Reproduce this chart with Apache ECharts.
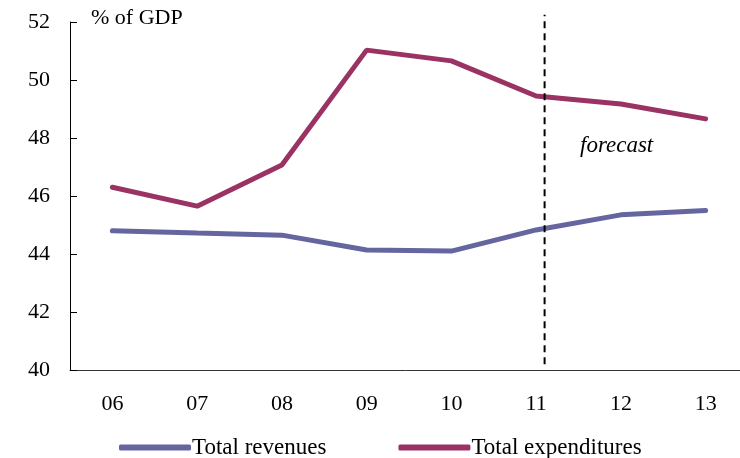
<!DOCTYPE html>
<html>
<head>
<meta charset="utf-8">
<script src="https://cdn.jsdelivr.net/npm/echarts@6/dist/echarts.min.js"></script>
<style>
  html, body { margin: 0; padding: 0; background: #fff; }
  #chart { width: 740px; height: 458px; }
</style>
</head>
<body>
<div id="chart"></div>
<script>
const years = ['06', '07', '08', '09', '10', '11', '12', '13'];
const revenues = [44.8, 44.72, 44.65, 44.14, 44.1, 44.83, 45.35, 45.5];
const expenditures = [46.3, 45.65, 47.07, 51.03, 50.66, 49.45, 49.17, 48.66];
const yTicks = [40, 42, 44, 46, 48, 50, 52];
// forecast divider, on a hidden 0..8 value axis over the categories
const forecastX = [5.6, 5.6];
const forecastY = [40.2, 52.25];

const font = '"Liberation Serif", "DejaVu Serif", serif';

const chart = echarts.init(document.getElementById('chart'));
chart.setOption({
  animation: false,
  textStyle: { fontFamily: font },
  // plot runs a little past the right edge, like the original
  grid: { left: 70, width: 678, top: 22, bottom: 88, outerBoundsMode: 'none', containLabel: false },
  legend: {
    top: 431,
    left: 114,
    itemWidth: 72,
    itemHeight: 6,
    itemGap: 72,
    icon: 'roundRect',
    textStyle: { fontFamily: font, fontSize: 23, color: '#000', padding: [0, 0, 0, -4] },
    data: ['Total revenues', 'Total expenditures']
  },
  xAxis: [{
    type: 'category',
    data: years,
    axisLine: { lineStyle: { color: '#333', width: 1 } },
    axisTick: { inside: true, length: 6, lineStyle: { color: '#333' } },
    axisLabel: { color: '#000', fontSize: 22, margin: 23, fontFamily: font }
  }, {
    type: 'value',
    min: 0,
    max: 8,
    show: false
  }],
  yAxis: {
    type: 'value',
    min: yTicks[0],
    max: yTicks[yTicks.length - 1],
    interval: 2,
    splitLine: { show: false },
    axisLine: { show: true, lineStyle: { color: '#000' } },
    axisTick: { show: true, inside: true, length: 7, lineStyle: { color: '#000' } },
    axisLabel: { color: '#000', fontSize: 22, margin: 20, fontFamily: font }
  },
  graphic: [{
    type: 'text',
    left: 91,
    top: 7,
    style: { text: '% of GDP', font: '22px ' + font, fill: '#000' }
  }, {
    type: 'text',
    left: 580,
    top: 134,
    style: { text: 'forecast', font: 'italic 23px ' + font, fill: '#000' }
  }],
  series: [{
    name: 'Total revenues',
    type: 'line',
    data: revenues,
    symbol: 'none',
    color: '#65669f',
    lineStyle: { width: 5, color: '#65669f', cap: 'round' }
  }, {
    name: 'Total expenditures',
    type: 'line',
    data: expenditures,
    symbol: 'none',
    color: '#9b3264',
    lineStyle: { width: 5, color: '#9b3264', cap: 'round' }
  }, {
    name: 'forecast',
    type: 'line',
    xAxisIndex: 1,
    clip: false,
    symbol: 'none',
    silent: true,
    data: forecastX.map((x, i) => [x, forecastY[i]]),
    lineStyle: { width: 2, color: '#000', type: [7, 5] }
  }]
});
</script>
</body>
</html>
